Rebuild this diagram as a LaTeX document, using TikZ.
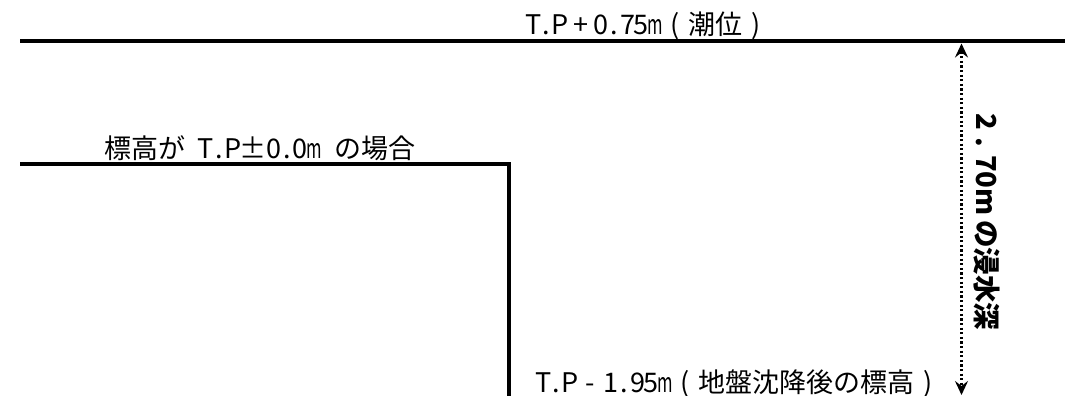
\documentclass[tikz,border=0pt]{standalone}
\usepackage{fontspec}
\usepackage{graphicx}
\setmainfont{Noto Sans CJK JP}
\usetikzlibrary{arrows.meta}
\newcommand\hw[1]{\makebox[0.5em][c]{#1}}
\newcommand\fw[1]{\makebox[1em][c]{#1}}
\newcommand\nm{\makebox[0.5em][c]{\scalebox{0.62}[1]{m}}}
\tikzset{
  thickline/.style={line width=4pt, line join=miter},
  lbl/.style={font=\fontsize{27}{27}\selectfont, inner sep=0pt, anchor=base},
  vlbl/.style={font=\fontsize{27.5}{28}\selectfont\bfseries, inner sep=0pt, rotate=-90},
  tipA/.tip={Stealth[length=14pt,width=13pt,inset=5pt]},
  dimline/.style={line width=2.2pt, dash pattern=on 2.2pt off 2.4pt, tipA-tipA}
}
\begin{document}
\begin{tikzpicture}[x=1pt,y=-1pt]
\useasboundingbox (0,0) rectangle (1065,396);
% top water level line
\coordinate (tl) at (20,41.5);
\coordinate (tr) at (1065,41.5);
\draw[thickline] (tl) -- (tr);
% ground step
\coordinate (sl) at (20,164);
\coordinate (sc) at (508.5,164);
\coordinate (sb) at (508.5,398);
\draw[thickline] (sl) -- (sc) -- (sb);
% dimension arrow
\coordinate (at) at (961.5,43.5);
\coordinate (ab) at (961.5,395);
\draw[dimline] (at) -- (ab);
% labels
\node[lbl] (ttop) at (648,35) {\hw{T}\hw{.}\hw{P}\fw{+}\hw{0}\hw{.}\hw{7}\hw{5}\nm\fw{(}潮位\fw{)}};
\node[lbl] (tleft) at (260,158) {標高が\hw{ }\hw{T}\hw{.}\hw{P}\fw{±}\hw{0}\hw{.}\hw{0}\nm\hw{ }の場合};
\node[lbl] (tbot) at (739,392) {\hw{T}\hw{.}\hw{P}\fw{-}\hw{1}\hw{.}\hw{9}\hw{5}\nm\fw{(}地盤沈降後の標高\fw{)}};
\node[vlbl] (vt) at (987,222) {2\makebox[0.9em]{.}70m\,の浸水深};
\end{tikzpicture}
\end{document}
